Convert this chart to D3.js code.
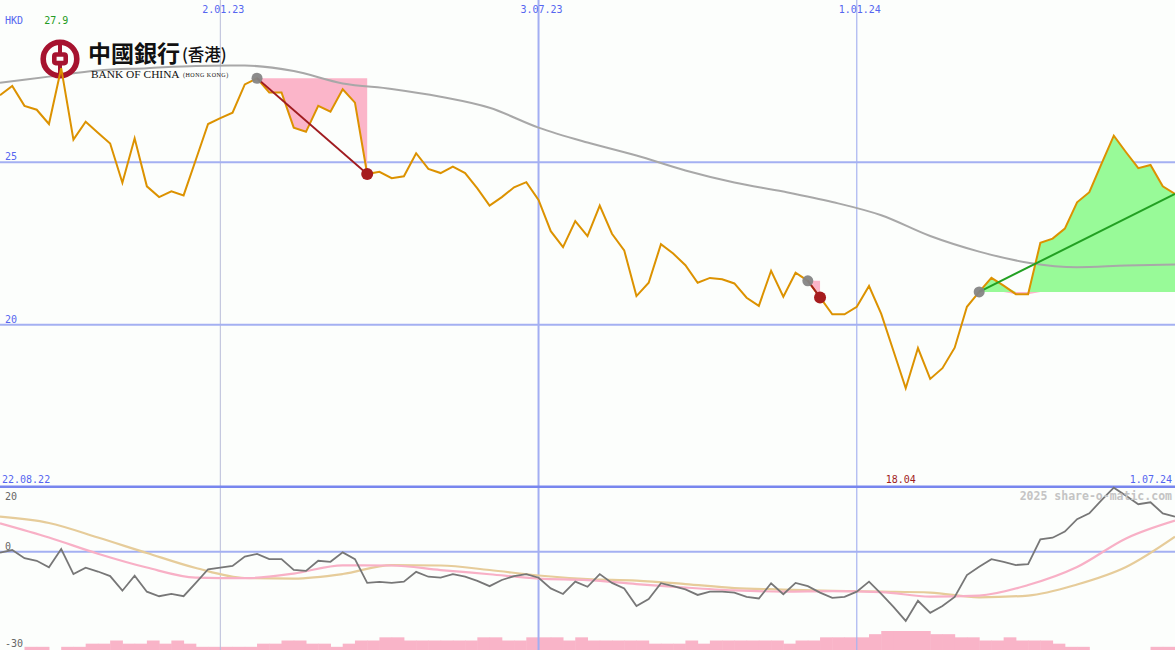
<!DOCTYPE html>
<html><head><meta charset="utf-8">
<script src="https://cdn.jsdelivr.net/npm/d3@7"></script>
<style>
html,body{margin:0;padding:0;background:#fcfefc;}
svg{display:block;}
</style></head><body>
<svg id="c" width="1175" height="650"></svg>
<script>
// ---- data (weekly) ----
const price = [27.07,27.35,26.74,26.62,26.18,27.90,25.70,26.25,25.91,25.58,
24.37,25.74,24.26,23.93,24.11,23.98,25.08,26.18,26.36,26.53,
27.40,27.59,27.15,27.15,26.07,25.94,26.74,26.56,27.25,26.84,
24.64,24.71,24.51,24.57,25.28,24.80,24.67,24.87,24.67,24.20,
23.67,23.93,24.23,24.39,23.84,22.88,22.39,23.19,22.73,23.67,
22.80,22.29,20.88,21.29,22.48,22.19,21.83,21.29,21.44,21.40,
21.27,20.83,20.58,21.66,20.86,21.60,21.35,20.84,20.32,20.32,
20.55,21.19,20.33,19.19,18.04,19.28,18.33,18.66,19.29,20.55,
21.01,21.44,21.20,20.94,20.94,22.52,22.65,22.96,23.77,24.08,
24.96,25.82,25.31,24.82,24.92,24.26,24.03];
// long moving average, one value every 4 weeks
const maWeeks = [0,4,8,12,16,20,24,28,32,36,40,44,48,52,56,60,64,68,72,76,80,84,88,92,96];
const maTop = [27.45,27.64,27.83,27.90,27.97,27.98,27.81,27.43,27.26,27.02,26.68,26.07,25.61,25.21,24.75,24.38,24.10,23.78,23.37,22.73,22.25,21.91,21.77,21.82,21.85];
// lower panel
const momentum = [-0.3,0.5,-2.0,-2.8,-4.8,0.8,-6.9,-4.9,-6.1,-7.5,
-12.0,-7.4,-12.3,-13.7,-13.0,-13.7,-9.6,-5.4,-4.9,-4.4,
-1.5,-0.7,-2.3,-2.3,-5.6,-5.9,-2.8,-3.1,-0.2,-2.3,
-9.6,-9.3,-9.6,-9.2,-6.2,-7.7,-8.0,-6.9,-7.7,-9.0,
-10.6,-8.7,-7.5,-6.9,-8.0,-11.3,-13.0,-9.2,-10.8,-6.9,
-9.6,-11.3,-16.7,-14.6,-9.7,-10.6,-11.6,-13.3,-12.3,-12.3,
-12.6,-13.9,-14.4,-9.7,-13.1,-9.6,-10.6,-12.6,-14.2,-13.9,
-12.3,-9.2,-13.0,-17.0,-21.3,-15.1,-18.8,-16.7,-13.9,-7.2,
-4.6,-2.3,-3.1,-4.1,-3.8,3.8,4.3,6.2,10.0,11.8,
15.9,19.7,17.2,14.6,15.2,11.8,10.8];
const pinkLow = [8.75,4.37,-0.62,-4.87,-7.95,-8.16,-6.72,-4.19,-4.25,-5.64,-6.93,-8.26,-8.72,-9.95,-11.03,-11.89,-12.26,-12.11,-12.42,-13.80,-13.49,-10.26,-4.71,4.07,9.55];
const tanLow = [10.78,8.84,4.37,-0.40,-5.02,-8.10,-8.26,-6.87,-4.10,-4.25,-5.64,-7.33,-8.41,-8.87,-9.95,-11.18,-11.65,-12.05,-12.26,-12.57,-14.05,-13.49,-10.10,-4.71,4.62];
const volume = [0,0,1,1,0,1,1,2,2,3,
2,2,3,2,3,2,1,1,1,1,
1,2,2,3,3,2,2,1,2,3,
3,4,4,3,3,3,3,3,3,4,
4,3,3,4,4,4,3,4,3,3,
3,3,3,2,2,2,3,2,3,3,
3,3,3,3,2,3,3,4,4,4,
4,5,6,6,6,6,5,5,4,4,
3,3,4,3,3,3,2,1,1,0,
0,0,0,0,1,1,0];
const xTickWeeks = [18, 44, 70];
const xTickLabels = ["2.01.23","3.07.23","1.01.24"];
const startLabel = "22.08.22", endLabel = "1.07.24";
const yTicksTop = [25, 20];
const yTicksLow = [20, 0, -30];
const drawdowns = [[21,30],[66,67]];
const trendStart = 80;

// ---- setup ----
const W = 1175, H = 650;
const svg = d3.select("#c");
const x = d3.scaleLinear().domain([0, price.length-1]).range([0, W]);
const y = d3.scaleLinear().domain([15,30]).range([487,0]);
const yl = d3.scaleLinear().domain([-30,20]).range([649.2,486.7]);
const yv = d3.scaleLinear().domain([0,6]).range([650,631]);
const mono = "'DejaVu Sans Mono', monospace";

svg.append("rect").attr("width",W).attr("height",H).attr("fill","#fcfefc");

// volume bars
svg.append("g").selectAll("rect").data(volume).join("rect")
  .attr("x",(d,i)=>x(i)).attr("width",(d,i)=>x(i+1)-x(i)+0.5)
  .attr("y",d=>yv(d)).attr("height",d=>yv(0)-yv(d))
  .attr("fill","#f9b4c8");

// grid
const grid = svg.append("g");
const vcol = ["#b8bcd8","#a2aef2","#a8b4f0"], vw = [1,2,1.2];
grid.selectAll("line.v").data(xTickWeeks).join("line")
  .attr("x1",d=>x(d)).attr("x2",d=>x(d)).attr("y1",0).attr("y2",H)
  .attr("stroke",(d,i)=>vcol[i]).attr("stroke-width",(d,i)=>vw[i]);
grid.selectAll("line.h").data(yTicksTop).join("line")
  .attr("x1",0).attr("x2",W).attr("y1",d=>y(d)).attr("y2",d=>y(d))
  .attr("stroke","#a4b0f2").attr("stroke-width",2);
grid.append("line").attr("x1",0).attr("x2",W).attr("y1",yl(0)).attr("y2",yl(0))
  .attr("stroke","#a4b0f2").attr("stroke-width",2);
grid.append("line").attr("x1",0).attr("x2",W).attr("y1",yl(20)).attr("y2",yl(20))
  .attr("stroke","#7886ee").attr("stroke-width",2.5);

// lower lines
const lineSparse = d3.line().x((d,i)=>x(maWeeks[i])).curve(d3.curveMonotoneX);
svg.append("path").datum(tanLow).attr("d",lineSparse.y(d=>yl(d)))
  .attr("fill","none").attr("stroke","#e6cc9a").attr("stroke-width",2.2);
svg.append("path").datum(pinkLow).attr("d",lineSparse.y(d=>yl(d)))
  .attr("fill","none").attr("stroke","#f8b0c6").attr("stroke-width",2.2);
svg.append("path").datum(momentum)
  .attr("d",d3.line().x((d,i)=>x(i)).y(d=>yl(d)))
  .attr("fill","none").attr("stroke","#777777").attr("stroke-width",1.8);

// drawdown areas
drawdowns.forEach(([a,b])=>{
  const lvl = price[a];
  svg.append("path").datum(d3.range(a,b+1))
    .attr("d",d3.area().x(i=>x(i)).y0(y(lvl)).y1(i=>y(price[i])))
    .attr("fill","#fbb5c9");
});
// trend area
{
  const lvl = price[trendStart];
  const idx = d3.range(trendStart, price.length);
  svg.append("path").datum(idx)
    .attr("d",d3.area().x(i=>x(i)).y0(y(lvl)).y1(i=>y(Math.min(price[i],lvl))))
    .attr("fill","#fbb5c9");
  svg.append("path").datum(idx)
    .attr("d",d3.area().x(i=>x(i)).y0(y(lvl)).y1(i=>y(Math.max(price[i],lvl))))
    .attr("fill","#98fa98");
}

// moving average
svg.append("path").datum(maTop)
  .attr("d",d3.line().x((d,i)=>x(maWeeks[i])).y(d=>y(d)).curve(d3.curveMonotoneX))
  .attr("fill","none").attr("stroke","#a8a8a8").attr("stroke-width",2);

// logo
const logo = svg.append("g");
const red = "#a6132f";
logo.append("circle").attr("cx",60).attr("cy",59).attr("r",16.8)
  .attr("fill","none").attr("stroke",red).attr("stroke-width",5.6);
logo.append("rect").attr("x",54.3).attr("y",54.5).attr("width",11.4).attr("height",8.6).attr("rx",1.5)
  .attr("fill","none").attr("stroke",red).attr("stroke-width",4.6);
logo.append("rect").attr("x",58).attr("y",41).attr("width",4).attr("height",12).attr("fill",red);
logo.append("rect").attr("x",58).attr("y",65).attr("width",4).attr("height",13).attr("fill",red);
logo.append("text").attr("x",88).attr("y",62).text("中國銀行")
  .attr("font-family","'Noto Sans CJK TC'").attr("font-weight",700).attr("font-size",23).attr("fill","#111");
logo.append("text").attr("x",182).attr("y",61).text("(香港)")
  .attr("font-family","'Noto Sans CJK TC'").attr("font-weight",500).attr("font-size",16.5).attr("fill","#111");
logo.append("text").attr("x",91).attr("y",77.5).text("BANK OF CHINA")
  .attr("font-family","'Liberation Serif', serif").attr("font-size",11.4).attr("fill","#111");
logo.append("text").attr("x",183).attr("y",76.5).text("(HONG KONG)")
  .attr("font-family","'Liberation Serif', serif").attr("font-size",6).attr("letter-spacing",0.5).attr("fill","#111");

// price line
svg.append("path").datum(price)
  .attr("d",d3.line().x((d,i)=>x(i)).y(d=>y(d)))
  .attr("fill","none").attr("stroke","#dc9200").attr("stroke-width",2);

// connectors
drawdowns.forEach(([a,b])=>{
  svg.append("line").attr("x1",x(a)).attr("y1",y(price[a])).attr("x2",x(b)).attr("y2",y(price[b]))
    .attr("stroke","#a01c20").attr("stroke-width",1.8);
});
const last = price.length-1;
svg.append("line").attr("x1",x(trendStart)).attr("y1",y(price[trendStart]))
  .attr("x2",x(last)).attr("y2",y(price[last]))
  .attr("stroke","#22a022").attr("stroke-width",2);

// markers
const starts = drawdowns.map(d=>d[0]).concat([trendStart]);
const ends = drawdowns.map(d=>d[1]);
svg.append("g").selectAll("circle").data(starts).join("circle")
  .attr("cx",d=>x(d)).attr("cy",d=>y(price[d])).attr("r",5.5).attr("fill","#858585").attr("opacity",0.95);
svg.append("g").selectAll("circle").data(ends).join("circle")
  .attr("cx",d=>x(d)).attr("cy",d=>y(price[d])).attr("r",6).attr("fill","#a61c1e");

// texts
const txt = (t,px,py,col,anchor,size,weight)=>svg.append("text").attr("x",px).attr("y",py).text(t)
  .attr("fill",col).attr("font-family",mono).attr("font-size",size||10)
  .attr("font-weight",weight||400).attr("text-anchor",anchor||"start");
const iMax = d3.maxIndex(price), iMin = d3.minIndex(price);
txt("HKD",5,24,"#5566f0");
txt(d3.format(".1f")(price[iMax]), x(iMax)-17, 24, "#239b23");
svg.append("g").selectAll("text").data(xTickWeeks).join("text")
  .attr("x",d=>x(d)+3).attr("y",13).text((d,i)=>xTickLabels[i])
  .attr("fill","#5566f0").attr("font-family",mono).attr("font-size",10).attr("text-anchor","middle");
svg.append("g").selectAll("text").data(yTicksTop).join("text")
  .attr("x",5).attr("y",d=>y(d)-2).text(d=>d)
  .attr("fill","#5566f0").attr("font-family",mono).attr("font-size",10);
txt(startLabel,2,483,"#5566f0");
txt(endLabel,1172,483,"#5566f0","end");
txt(d3.format(".2f")(price[iMin]), x(iMin)-20, 483, "#a01c1c");
svg.append("g").selectAll("text").data(yTicksLow).join("text")
  .attr("x",5).attr("y",(d,i)=>[500,550,647][i]).text(d=>d)
  .attr("fill","#666").attr("font-family",mono).attr("font-size",10);
txt("2025 share-o-matic.com",1172,500,"#c4c4c4","end",11.5,700);
</script>
</body></html>
